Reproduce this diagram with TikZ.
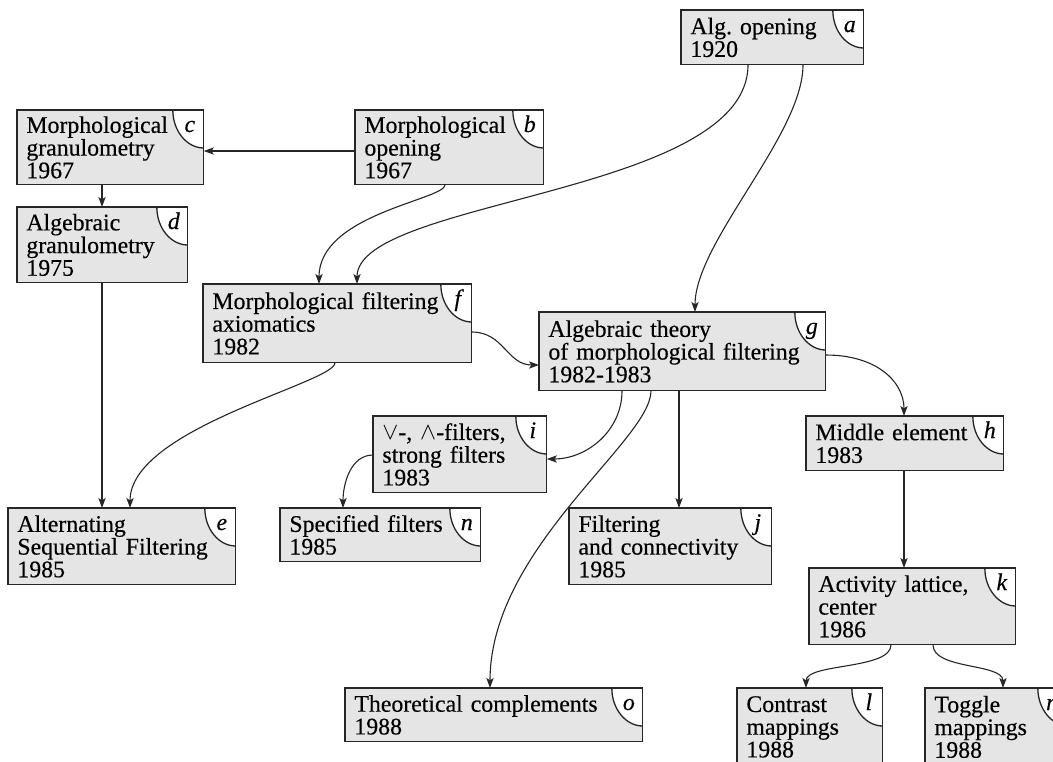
\documentclass[tikz,border=0pt]{standalone}
\usepackage{fontspec}
\setmainfont{Liberation Serif}[FakeBold=0.35]
\usetikzlibrary{arrows.meta,calc}
\newcommand\boxfont{\fontsize{11.9pt}{11.35pt}\selectfont\lineskiplimit=-6pt\frenchspacing\relax}
\tikzset{
 boxfill/.style={fill=black!10, draw=none, anchor=north west, inner xsep=4.5pt, inner ysep=0pt, align=left, font=\boxfont},
 boxline/.style={draw=black!85, line width=0.65pt},
 tagfill/.style={fill=white},
 tagtext/.style={anchor=base, inner sep=0pt, font=\boxfont\itshape},
 arr/.style={draw=black!85, line width=0.55pt, -{Stealth[length=5pt,width=3.6pt,inset=1.2pt]}},
}
\newcommand\dbox[7]{%
 \pgfmathsetmacro\bw{(#4-#2)/2}%
 \pgfmathsetmacro\bh{(#5-#3)/2}%
 \pgfmathsetmacro\tw{(#4-#2-18)/2}%
 \node[boxfill, minimum width=\bw pt, minimum height=\bh pt, text width=\tw pt] (#1) at (#2,#3) {#7};
 \fill[tagfill] ($(#1.north east)+(-31,0)$) .. controls +(0,21) and +(-17,0) .. ($(#1.north east)+(0,38)$) -- (#1.north east) -- cycle;
 \draw[boxline] ($(#1.north east)+(-31,0)$) .. controls +(0,21) and +(-17,0) .. ($(#1.north east)+(0,38)$);
 \draw[boxline] (#1.north west) rectangle (#1.south east);
 \node[tagtext] (#1-tag) at ($(#1.north east)+(-14,22)$) {#6};
}
\begin{document}
\begin{tikzpicture}[x=0.5pt,y=-0.5pt]
\useasboundingbox (0,0) rectangle (1053,761);
\clip (0,0) rectangle (1053,761);
\dbox{a}{681}{10}{863}{64}{a}{Alg. opening\\1920}
\dbox{b}{355}{110}{543}{184}{b}{Morphological\\opening\\1967}
\dbox{c}{17}{110}{203}{184}{c}{Morphological\\granulometry\\1967}
\dbox{d}{17}{207}{187}{282}{d}{Algebraic\\granulometry\\1975}
\dbox{e}{8}{508}{235}{584}{e}{Alternating\\Sequential Filtering\\1985}
\dbox{f}{203}{284}{471}{362}{f}{Morphological filtering\\axiomatics\\1982}
\dbox{g}{539}{312}{825}{390}{g}{Algebraic theory\\of morphological filtering\\1982-1983}
\dbox{h}{806}{416}{1003}{470}{h}{Middle element\\1983}
\dbox{i}{373}{416}{546}{492}{i}{$\vee$-, $\wedge$-filters,\\strong filters\\1983}
\dbox{j}{569}{508}{771}{584}{j}{Filtering\\and connectivity\\1985}
\dbox{k}{809}{568}{1015}{644}{k}{Activity lattice,\\center\\1986}
\dbox{l}{737}{688}{882}{765}{l}{Contrast\\mappings\\1988}
\dbox{m}{925}{688}{1068}{765}{m}{Toggle\\mappings\\1988}
\dbox{n}{280}{508}{480}{561}{n}{Specified filters\\1985}
\dbox{o}{345}{688}{642}{741}{o}{Theoretical complements\\1988}

\draw[arr] ($(b.north west)+(0,41)$) -- ($(c.north east)+(0,41)$);
\draw[arr] ($(c.south west)+(85,0)$) -- ($(d.north west)+(85,0)$);
\draw[arr] ($(b.south west)+(90,0)$) .. controls +(0,15) and +(0,-70) .. ($(f.north west)+(116,0)$);
\draw[arr] ($(a.south west)+(67,0)$) .. controls +(0,130) and +(0,-85) .. ($(f.north west)+(154,0)$);
\draw[arr] ($(a.south west)+(122,0)$) .. controls +(0,70) and +(0,-70) .. ($(g.north west)+(156,0)$);
\draw[arr] ($(f.north east)+(0,48)$) .. controls +(32,0) and +(-32,0) .. ($(g.north west)+(0,53)$);
\draw[arr] ($(f.south west)+(132,0)$) .. controls +(0,20) and +(0,-80) .. ($(e.north west)+(122,0)$);
\draw[arr] ($(d.south west)+(85,0)$) -- ($(e.north west)+(94,0)$);
\draw[arr] ($(g.south west)+(83,0)$) .. controls +(0,40) and +(40,0) .. ($(i.north east)+(0,43)$);
\draw[arr] ($(i.north west)+(0,39)$) .. controls +(-22,0) and +(0,-25) .. ($(n.north west)+(63,0)$);
\draw[arr] ($(g.south west)+(112,0)$) .. controls +(0,50) and +(0,-140) .. ($(o.north west)+(145,0)$);
\draw[arr] ($(g.south west)+(140,0)$) -- ($(j.north west)+(110,0)$);
\draw[arr] ($(g.north east)+(0,43)$) .. controls +(50,0) and +(0,-35) .. ($(h.north west)+(98,0)$);
\draw[arr] ($(h.south west)+(98,0)$) -- ($(k.north west)+(95,0)$);
\draw[arr] ($(k.south west)+(82,0)$) .. controls +(0,25) and +(0,-25) .. ($(l.north west)+(69,0)$);
\draw[arr] ($(k.south west)+(124,0)$) .. controls +(0,25) and +(0,-25) .. ($(m.north west)+(78,0)$);
\end{tikzpicture}
\end{document}
